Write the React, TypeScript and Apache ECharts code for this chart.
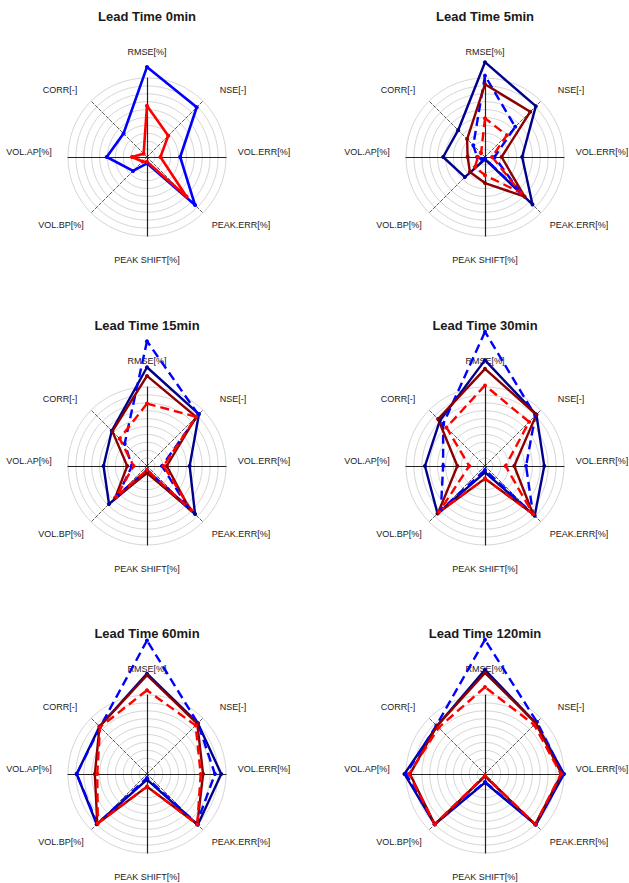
import { useEffect, useRef } from "react";
import * as echarts from "echarts";

// Metrics in clockwise order starting at the top
const metrics = ["RMSE[%]", "NSE[-]", "VOL.ERR[%]", "PEAK.ERR[%]", "PEAK SHIFT[%]", "VOL.BP[%]", "VOL.AP[%]", "CORR[-]"];
const titles = ["Lead Time 0min", "Lead Time 5min", "Lead Time 15min", "Lead Time 30min", "Lead Time 60min", "Lead Time 120min"];
const scaleMax = 10;

// values (clockwise: RMSE, NSE, VOL.ERR, PEAK.ERR, PEAK SHIFT, VOL.BP, VOL.AP, CORR), outer ring = 10
const lt0Blue = [11.4, 8.9, 4.2, 8.6, 0.8, 2.5, 5.1, 4.2];
const lt0Red = [6.5, 3.8, 1.7, 7.1, 0.6, 0.8, 1.9, 0.6];

const lt5Navy = [12.0, 9.1, 4.7, 8.5, 0.3, 3.6, 5.3, 4.8];
const lt5BlueDash = [10.3, 5.4, 1.2, 6.3, 0.2, 0.5, 1.0, 2.1];
const lt5DarkRed = [9.2, 8.1, 2.1, 7.1, 3.3, 2.7, 2.2, 3.2];
const lt5RedDash = [4.9, 3.9, 0.9, 6.4, 2.3, 1.8, 0.9, 0.7];

const lt15Navy = [12.5, 9.3, 5.4, 8.6, 0.8, 6.8, 5.5, 6.3];
const lt15BlueDash = [15.8, 9.2, 1.9, 7.2, 0.5, 5.2, 1.9, 4.0];
const lt15DarkRed = [11.4, 8.8, 2.5, 7.6, 0.9, 5.7, 2.5, 6.2];
const lt15RedDash = [7.9, 8.8, 2.1, 7.9, 0.5, 5.5, 1.7, 4.9];

const lt30Navy = [13.4, 9.2, 7.5, 8.9, 0.8, 8.5, 7.6, 8.1];
const lt30BlueDash = [17.0, 9.0, 5.2, 8.6, 0.5, 7.9, 5.3, 7.5];
const lt30DarkRed = [12.3, 9.2, 3.7, 8.6, 1.6, 8.4, 3.5, 8.4];
const lt30RedDash = [10.2, 7.9, 2.6, 8.6, 1.6, 8.2, 2.0, 6.9];

const lt60Navy = [12.7, 9.1, 9.4, 9.1, 0.7, 9.0, 8.9, 8.5];
const lt60BlueDash = [16.9, 9.1, 8.6, 8.9, 0.5, 8.9, 8.9, 8.4];
const lt60DarkRed = [12.5, 9.0, 7.1, 9.0, 1.6, 8.9, 6.6, 8.5];
const lt60RedDash = [10.6, 8.7, 6.8, 9.0, 1.6, 8.8, 6.3, 8.4];

const lt120Navy = [13.2, 9.1, 10.0, 9.1, 1.1, 9.0, 10.2, 8.6];
const lt120BlueDash = [17.0, 9.3, 9.9, 9.0, 1.0, 9.0, 10.0, 8.7];
const lt120DarkRed = [12.8, 9.1, 9.7, 9.0, 0.3, 9.0, 9.5, 8.6];
const lt120RedDash = [11.0, 8.8, 9.6, 9.0, 0.2, 9.0, 9.6, 8.3];

// styles
const STYLE = {
  blue: { color: "#0000FF", type: "solid" as const, width: 2.6 },
  red: { color: "#FF0000", type: "solid" as const, width: 2.6 },
  navy: { color: "#00008B", type: "solid" as const, width: 2.4 },
  blueDash: { color: "#0000FF", type: [9, 5] as any, width: 2.4 },
  darkRed: { color: "#8B0000", type: "solid" as const, width: 2.4 },
  redDash: { color: "#FF0000", type: [9, 5] as any, width: 2.4 },
};

const panelSeries: { name: string; values: number[]; style: keyof typeof STYLE }[][] = [
  [
    { name: "blue", values: lt0Blue, style: "blue" },
    { name: "red", values: lt0Red, style: "red" },
  ],
  [
    { name: "navy", values: lt5Navy, style: "navy" },
    { name: "blue dashed", values: lt5BlueDash, style: "blueDash" },
    { name: "darkred", values: lt5DarkRed, style: "darkRed" },
    { name: "red dashed", values: lt5RedDash, style: "redDash" },
  ],
  [
    { name: "navy", values: lt15Navy, style: "navy" },
    { name: "blue dashed", values: lt15BlueDash, style: "blueDash" },
    { name: "darkred", values: lt15DarkRed, style: "darkRed" },
    { name: "red dashed", values: lt15RedDash, style: "redDash" },
  ],
  [
    { name: "navy", values: lt30Navy, style: "navy" },
    { name: "blue dashed", values: lt30BlueDash, style: "blueDash" },
    { name: "darkred", values: lt30DarkRed, style: "darkRed" },
    { name: "red dashed", values: lt30RedDash, style: "redDash" },
  ],
  [
    { name: "navy", values: lt60Navy, style: "navy" },
    { name: "blue dashed", values: lt60BlueDash, style: "blueDash" },
    { name: "darkred", values: lt60DarkRed, style: "darkRed" },
    { name: "red dashed", values: lt60RedDash, style: "redDash" },
  ],
  [
    { name: "navy", values: lt120Navy, style: "navy" },
    { name: "blue dashed", values: lt120BlueDash, style: "blueDash" },
    { name: "darkred", values: lt120DarkRed, style: "darkRed" },
    { name: "red dashed", values: lt120RedDash, style: "redDash" },
  ],
];

// layout
const CENTERS = [
  [147, 157],
  [485, 157],
  [147, 466],
  [485, 466],
  [147, 774],
  [485, 774],
];
const RADIUS = 79;
const TITLE_DY = -141;
// label offsets, clockwise from top
const LABEL_OFFSETS = [
  [0, -105],
  [86, -67],
  [117, -5],
  [94, 68],
  [0, 103],
  [-86, 68],
  [-118, -5],
  [-87, -67],
];
// ECharts places indicators counter-clockwise from the top
const RADAR_ORDER = [0, 7, 6, 5, 4, 3, 2, 1];
const FONT = "'Liberation Sans', Arial, Helvetica, sans-serif";

export default function App() {
  const ref = useRef<HTMLDivElement>(null);
  useEffect(() => {
    if (!ref.current) return;
    const chart = echarts.init(ref.current, null, { renderer: "svg" });

    const gridRadars = CENTERS.map((c) => ({
      center: c,
      radius: RADIUS,
      startAngle: 90,
      shape: "circle",
      splitNumber: 10,
      indicator: RADAR_ORDER.map((i) => ({ name: metrics[i], min: 0, max: scaleMax })),
      axisName: { show: false },
      splitLine: { lineStyle: { color: "#d6d6d6", width: 1 } },
      splitArea: { show: false },
      axisTick: { show: false },
      axisLabel: { show: false },
      axisLine: { lineStyle: { color: "#333", width: 0.8, type: [3, 2] } },
    }));
    const crossRadars = CENTERS.map((c) => ({
      center: c,
      radius: RADIUS,
      startAngle: 90,
      shape: "circle",
      splitNumber: 10,
      indicator: [0, 6, 4, 2].map((i) => ({ name: metrics[i], min: 0, max: scaleMax })),
      axisName: { show: false },
      splitLine: { show: false },
      splitArea: { show: false },
      axisTick: { show: false },
      axisLabel: { show: false },
      axisLine: { lineStyle: { color: "#222", width: 1.2, type: "solid" } },
    }));

    const series = panelSeries.map((list, p) => ({
      type: "radar",
      radarIndex: p,
      symbol: "circle",
      symbolSize: 4,
      z: 3,
      data: list.map((s) => ({
        name: s.name,
        value: RADAR_ORDER.map((i) => s.values[i]),
        lineStyle: { ...STYLE[s.style] },
        itemStyle: { color: STYLE[s.style].color },
      })),
    }));

    const graphics: any[] = [];
    CENTERS.forEach((c, p) => {
      graphics.push({
        type: "text",
        x: c[0],
        y: c[1] + TITLE_DY,
        style: {
          text: titles[p],
          fill: "#1a1a1a",
          font: `bold 13px ${FONT}`,
          textAlign: "center",
          textVerticalAlign: "middle",
        },
      });
      metrics.forEach((m, i) => {
        graphics.push({
          type: "text",
          x: c[0] + LABEL_OFFSETS[i][0],
          y: c[1] + LABEL_OFFSETS[i][1],
          z: 0,
          style: {
            text: m,
            fill: "#222",
            font: `9px ${FONT}`,
            textAlign: "center",
            textVerticalAlign: "middle",
          },
        });
      });
    });

    chart.setOption({
      animation: false,
      backgroundColor: "#ffffff",
      radar: [...gridRadars, ...crossRadars],
      series,
      graphic: graphics,
    });
    return () => chart.dispose();
  }, []);
  return (
    <div
      ref={ref}
      style={{ position: "absolute", left: 0, top: 0, width: 629, height: 883, background: "#fff" }}
    />
  );
}
